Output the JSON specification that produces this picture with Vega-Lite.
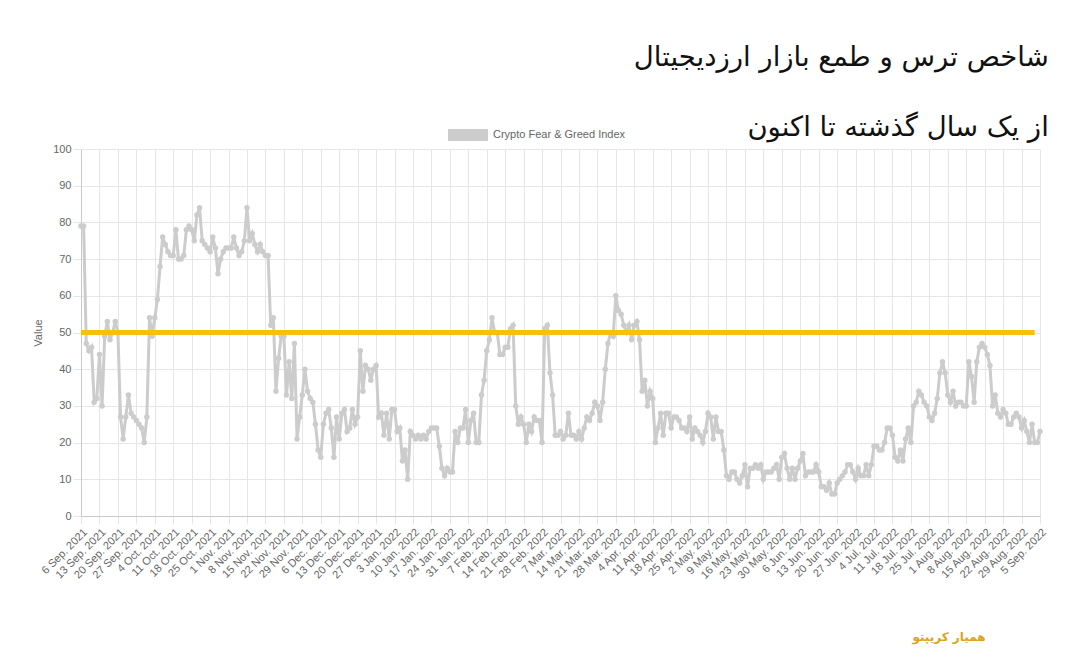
{
  "$schema": "https://vega.github.io/schema/vega-lite/v6.json",
  "width": 959,
  "height": 367,
  "autosize": {"type": "none"},
  "padding": {"left": 81, "top": 149, "right": 38, "bottom": 155},
  "background": "#ffffff",
  "title": {
    "text": ["شاخص ترس و طمع بازار ارزدیجیتال", "از یک سال گذشته تا اکنون"],
    "anchor": "end",
    "font": "DejaVu Sans",
    "fontSize": 27.5,
    "fontWeight": "normal",
    "color": "#111111",
    "lineHeight": 70,
    "offset": -26,
    "dx": 1
  },
  "data": {
    "values": [
      {"date": "2021-09-06", "value": 79}, {"date": "2021-09-07", "value": 79}, {"date": "2021-09-08", "value": 47}, {"date": "2021-09-09", "value": 45}, {"date": "2021-09-10", "value": 46}, {"date": "2021-09-11", "value": 31}, {"date": "2021-09-12", "value": 32}, {"date": "2021-09-13", "value": 44}, {"date": "2021-09-14", "value": 30}, {"date": "2021-09-15", "value": 49}, {"date": "2021-09-16", "value": 53}, {"date": "2021-09-17", "value": 48}, {"date": "2021-09-18", "value": 50}, {"date": "2021-09-19", "value": 53}, {"date": "2021-09-20", "value": 50}, {"date": "2021-09-21", "value": 27}, {"date": "2021-09-22", "value": 21}, {"date": "2021-09-23", "value": 27}, {"date": "2021-09-24", "value": 33}, {"date": "2021-09-25", "value": 28}, {"date": "2021-09-26", "value": 27}, {"date": "2021-09-27", "value": 26}, {"date": "2021-09-28", "value": 25}, {"date": "2021-09-29", "value": 24}, {"date": "2021-09-30", "value": 20},
      {"date": "2021-10-01", "value": 27}, {"date": "2021-10-02", "value": 54}, {"date": "2021-10-03", "value": 49}, {"date": "2021-10-04", "value": 54}, {"date": "2021-10-05", "value": 59}, {"date": "2021-10-06", "value": 68}, {"date": "2021-10-07", "value": 76}, {"date": "2021-10-08", "value": 74}, {"date": "2021-10-09", "value": 72}, {"date": "2021-10-10", "value": 71}, {"date": "2021-10-11", "value": 71}, {"date": "2021-10-12", "value": 78}, {"date": "2021-10-13", "value": 70}, {"date": "2021-10-14", "value": 70}, {"date": "2021-10-15", "value": 71}, {"date": "2021-10-16", "value": 78}, {"date": "2021-10-17", "value": 79}, {"date": "2021-10-18", "value": 78}, {"date": "2021-10-19", "value": 75}, {"date": "2021-10-20", "value": 82}, {"date": "2021-10-21", "value": 84}, {"date": "2021-10-22", "value": 75}, {"date": "2021-10-23", "value": 74}, {"date": "2021-10-24", "value": 73}, {"date": "2021-10-25", "value": 72}, {"date": "2021-10-26", "value": 76}, {"date": "2021-10-27", "value": 73}, {"date": "2021-10-28", "value": 66}, {"date": "2021-10-29", "value": 70}, {"date": "2021-10-30", "value": 72}, {"date": "2021-10-31", "value": 73},
      {"date": "2021-11-01", "value": 73}, {"date": "2021-11-02", "value": 73}, {"date": "2021-11-03", "value": 76}, {"date": "2021-11-04", "value": 73}, {"date": "2021-11-05", "value": 71}, {"date": "2021-11-06", "value": 72}, {"date": "2021-11-07", "value": 75}, {"date": "2021-11-08", "value": 84}, {"date": "2021-11-09", "value": 75}, {"date": "2021-11-10", "value": 77}, {"date": "2021-11-11", "value": 74}, {"date": "2021-11-12", "value": 72}, {"date": "2021-11-13", "value": 74}, {"date": "2021-11-14", "value": 72}, {"date": "2021-11-15", "value": 71}, {"date": "2021-11-16", "value": 71}, {"date": "2021-11-17", "value": 52}, {"date": "2021-11-18", "value": 54}, {"date": "2021-11-19", "value": 34}, {"date": "2021-11-20", "value": 43}, {"date": "2021-11-21", "value": 49}, {"date": "2021-11-22", "value": 49}, {"date": "2021-11-23", "value": 33}, {"date": "2021-11-24", "value": 42}, {"date": "2021-11-25", "value": 32}, {"date": "2021-11-26", "value": 47}, {"date": "2021-11-27", "value": 21}, {"date": "2021-11-28", "value": 27}, {"date": "2021-11-29", "value": 33}, {"date": "2021-11-30", "value": 40},
      {"date": "2021-12-01", "value": 34}, {"date": "2021-12-02", "value": 32}, {"date": "2021-12-03", "value": 31}, {"date": "2021-12-04", "value": 25}, {"date": "2021-12-05", "value": 18}, {"date": "2021-12-06", "value": 16}, {"date": "2021-12-07", "value": 25}, {"date": "2021-12-08", "value": 28}, {"date": "2021-12-09", "value": 29}, {"date": "2021-12-10", "value": 24}, {"date": "2021-12-11", "value": 16}, {"date": "2021-12-12", "value": 27}, {"date": "2021-12-13", "value": 21}, {"date": "2021-12-14", "value": 28}, {"date": "2021-12-15", "value": 29}, {"date": "2021-12-16", "value": 23}, {"date": "2021-12-17", "value": 24}, {"date": "2021-12-18", "value": 29}, {"date": "2021-12-19", "value": 25}, {"date": "2021-12-20", "value": 27}, {"date": "2021-12-21", "value": 45}, {"date": "2021-12-22", "value": 34}, {"date": "2021-12-23", "value": 41}, {"date": "2021-12-24", "value": 40}, {"date": "2021-12-25", "value": 37}, {"date": "2021-12-26", "value": 40}, {"date": "2021-12-27", "value": 41}, {"date": "2021-12-28", "value": 27}, {"date": "2021-12-29", "value": 28}, {"date": "2021-12-30", "value": 22}, {"date": "2021-12-31", "value": 28},
      {"date": "2022-01-01", "value": 21}, {"date": "2022-01-02", "value": 29}, {"date": "2022-01-03", "value": 29}, {"date": "2022-01-04", "value": 23}, {"date": "2022-01-05", "value": 24}, {"date": "2022-01-06", "value": 15}, {"date": "2022-01-07", "value": 18}, {"date": "2022-01-08", "value": 10}, {"date": "2022-01-09", "value": 23}, {"date": "2022-01-10", "value": 22}, {"date": "2022-01-11", "value": 21}, {"date": "2022-01-12", "value": 22}, {"date": "2022-01-13", "value": 21}, {"date": "2022-01-14", "value": 22}, {"date": "2022-01-15", "value": 21}, {"date": "2022-01-16", "value": 23}, {"date": "2022-01-17", "value": 24}, {"date": "2022-01-18", "value": 24}, {"date": "2022-01-19", "value": 24}, {"date": "2022-01-20", "value": 19}, {"date": "2022-01-21", "value": 13}, {"date": "2022-01-22", "value": 11}, {"date": "2022-01-23", "value": 13}, {"date": "2022-01-24", "value": 12}, {"date": "2022-01-25", "value": 12}, {"date": "2022-01-26", "value": 23}, {"date": "2022-01-27", "value": 20}, {"date": "2022-01-28", "value": 24}, {"date": "2022-01-29", "value": 24}, {"date": "2022-01-30", "value": 29}, {"date": "2022-01-31", "value": 20},
      {"date": "2022-02-01", "value": 26}, {"date": "2022-02-02", "value": 28}, {"date": "2022-02-03", "value": 20}, {"date": "2022-02-04", "value": 20}, {"date": "2022-02-05", "value": 33}, {"date": "2022-02-06", "value": 37}, {"date": "2022-02-07", "value": 45}, {"date": "2022-02-08", "value": 48}, {"date": "2022-02-09", "value": 54}, {"date": "2022-02-10", "value": 50}, {"date": "2022-02-11", "value": 50}, {"date": "2022-02-12", "value": 44}, {"date": "2022-02-13", "value": 44}, {"date": "2022-02-14", "value": 46}, {"date": "2022-02-15", "value": 46}, {"date": "2022-02-16", "value": 51}, {"date": "2022-02-17", "value": 52}, {"date": "2022-02-18", "value": 30}, {"date": "2022-02-19", "value": 25}, {"date": "2022-02-20", "value": 27}, {"date": "2022-02-21", "value": 25}, {"date": "2022-02-22", "value": 20}, {"date": "2022-02-23", "value": 25}, {"date": "2022-02-24", "value": 23}, {"date": "2022-02-25", "value": 27}, {"date": "2022-02-26", "value": 26}, {"date": "2022-02-27", "value": 26}, {"date": "2022-02-28", "value": 20},
      {"date": "2022-03-01", "value": 51}, {"date": "2022-03-02", "value": 52}, {"date": "2022-03-03", "value": 39}, {"date": "2022-03-04", "value": 33}, {"date": "2022-03-05", "value": 22}, {"date": "2022-03-06", "value": 22}, {"date": "2022-03-07", "value": 23}, {"date": "2022-03-08", "value": 21}, {"date": "2022-03-09", "value": 22}, {"date": "2022-03-10", "value": 28}, {"date": "2022-03-11", "value": 22}, {"date": "2022-03-12", "value": 22}, {"date": "2022-03-13", "value": 21}, {"date": "2022-03-14", "value": 23}, {"date": "2022-03-15", "value": 21}, {"date": "2022-03-16", "value": 24}, {"date": "2022-03-17", "value": 27}, {"date": "2022-03-18", "value": 26}, {"date": "2022-03-19", "value": 28}, {"date": "2022-03-20", "value": 31}, {"date": "2022-03-21", "value": 30}, {"date": "2022-03-22", "value": 26}, {"date": "2022-03-23", "value": 31}, {"date": "2022-03-24", "value": 40}, {"date": "2022-03-25", "value": 47}, {"date": "2022-03-26", "value": 50}, {"date": "2022-03-27", "value": 49}, {"date": "2022-03-28", "value": 60}, {"date": "2022-03-29", "value": 56}, {"date": "2022-03-30", "value": 55}, {"date": "2022-03-31", "value": 52},
      {"date": "2022-04-01", "value": 50}, {"date": "2022-04-02", "value": 52}, {"date": "2022-04-03", "value": 48}, {"date": "2022-04-04", "value": 52}, {"date": "2022-04-05", "value": 53}, {"date": "2022-04-06", "value": 48}, {"date": "2022-04-07", "value": 34}, {"date": "2022-04-08", "value": 37}, {"date": "2022-04-09", "value": 30}, {"date": "2022-04-10", "value": 34}, {"date": "2022-04-11", "value": 32}, {"date": "2022-04-12", "value": 20}, {"date": "2022-04-13", "value": 24}, {"date": "2022-04-14", "value": 28}, {"date": "2022-04-15", "value": 22}, {"date": "2022-04-16", "value": 28}, {"date": "2022-04-17", "value": 28}, {"date": "2022-04-18", "value": 24}, {"date": "2022-04-19", "value": 27}, {"date": "2022-04-20", "value": 27}, {"date": "2022-04-21", "value": 26}, {"date": "2022-04-22", "value": 24}, {"date": "2022-04-23", "value": 24}, {"date": "2022-04-24", "value": 23}, {"date": "2022-04-25", "value": 27}, {"date": "2022-04-26", "value": 21}, {"date": "2022-04-27", "value": 24}, {"date": "2022-04-28", "value": 23}, {"date": "2022-04-29", "value": 22}, {"date": "2022-04-30", "value": 20},
      {"date": "2022-05-01", "value": 23}, {"date": "2022-05-02", "value": 28}, {"date": "2022-05-03", "value": 27}, {"date": "2022-05-04", "value": 21}, {"date": "2022-05-05", "value": 27}, {"date": "2022-05-06", "value": 23}, {"date": "2022-05-07", "value": 23}, {"date": "2022-05-08", "value": 18}, {"date": "2022-05-09", "value": 11}, {"date": "2022-05-10", "value": 10}, {"date": "2022-05-11", "value": 12}, {"date": "2022-05-12", "value": 12}, {"date": "2022-05-13", "value": 10}, {"date": "2022-05-14", "value": 9}, {"date": "2022-05-15", "value": 11}, {"date": "2022-05-16", "value": 14}, {"date": "2022-05-17", "value": 8}, {"date": "2022-05-18", "value": 13}, {"date": "2022-05-19", "value": 13}, {"date": "2022-05-20", "value": 14}, {"date": "2022-05-21", "value": 13}, {"date": "2022-05-22", "value": 14}, {"date": "2022-05-23", "value": 10}, {"date": "2022-05-24", "value": 12}, {"date": "2022-05-25", "value": 12}, {"date": "2022-05-26", "value": 12}, {"date": "2022-05-27", "value": 13}, {"date": "2022-05-28", "value": 14}, {"date": "2022-05-29", "value": 10}, {"date": "2022-05-30", "value": 16}, {"date": "2022-05-31", "value": 17},
      {"date": "2022-06-01", "value": 13}, {"date": "2022-06-02", "value": 10}, {"date": "2022-06-03", "value": 13}, {"date": "2022-06-04", "value": 10}, {"date": "2022-06-05", "value": 13}, {"date": "2022-06-06", "value": 15}, {"date": "2022-06-07", "value": 17}, {"date": "2022-06-08", "value": 11}, {"date": "2022-06-09", "value": 12}, {"date": "2022-06-10", "value": 12}, {"date": "2022-06-11", "value": 12}, {"date": "2022-06-12", "value": 14}, {"date": "2022-06-13", "value": 12}, {"date": "2022-06-14", "value": 8}, {"date": "2022-06-15", "value": 8}, {"date": "2022-06-16", "value": 7}, {"date": "2022-06-17", "value": 9}, {"date": "2022-06-18", "value": 6}, {"date": "2022-06-19", "value": 6}, {"date": "2022-06-20", "value": 9}, {"date": "2022-06-21", "value": 10}, {"date": "2022-06-22", "value": 11}, {"date": "2022-06-23", "value": 12}, {"date": "2022-06-24", "value": 14}, {"date": "2022-06-25", "value": 14}, {"date": "2022-06-26", "value": 12}, {"date": "2022-06-27", "value": 10}, {"date": "2022-06-28", "value": 13}, {"date": "2022-06-29", "value": 11}, {"date": "2022-06-30", "value": 11},
      {"date": "2022-07-01", "value": 14}, {"date": "2022-07-02", "value": 11}, {"date": "2022-07-03", "value": 14}, {"date": "2022-07-04", "value": 19}, {"date": "2022-07-05", "value": 19}, {"date": "2022-07-06", "value": 18}, {"date": "2022-07-07", "value": 18}, {"date": "2022-07-08", "value": 20}, {"date": "2022-07-09", "value": 24}, {"date": "2022-07-10", "value": 24}, {"date": "2022-07-11", "value": 22}, {"date": "2022-07-12", "value": 16}, {"date": "2022-07-13", "value": 15}, {"date": "2022-07-14", "value": 18}, {"date": "2022-07-15", "value": 15}, {"date": "2022-07-16", "value": 21}, {"date": "2022-07-17", "value": 24}, {"date": "2022-07-18", "value": 20}, {"date": "2022-07-19", "value": 30}, {"date": "2022-07-20", "value": 31}, {"date": "2022-07-21", "value": 34}, {"date": "2022-07-22", "value": 33}, {"date": "2022-07-23", "value": 31}, {"date": "2022-07-24", "value": 30}, {"date": "2022-07-25", "value": 27}, {"date": "2022-07-26", "value": 26}, {"date": "2022-07-27", "value": 28}, {"date": "2022-07-28", "value": 32}, {"date": "2022-07-29", "value": 39}, {"date": "2022-07-30", "value": 42}, {"date": "2022-07-31", "value": 39},
      {"date": "2022-08-01", "value": 33}, {"date": "2022-08-02", "value": 31}, {"date": "2022-08-03", "value": 34}, {"date": "2022-08-04", "value": 30}, {"date": "2022-08-05", "value": 31}, {"date": "2022-08-06", "value": 31}, {"date": "2022-08-07", "value": 30}, {"date": "2022-08-08", "value": 30}, {"date": "2022-08-09", "value": 42}, {"date": "2022-08-10", "value": 38}, {"date": "2022-08-11", "value": 31}, {"date": "2022-08-12", "value": 42}, {"date": "2022-08-13", "value": 46}, {"date": "2022-08-14", "value": 47}, {"date": "2022-08-15", "value": 46}, {"date": "2022-08-16", "value": 44}, {"date": "2022-08-17", "value": 41}, {"date": "2022-08-18", "value": 30}, {"date": "2022-08-19", "value": 33}, {"date": "2022-08-20", "value": 28}, {"date": "2022-08-21", "value": 27}, {"date": "2022-08-22", "value": 29}, {"date": "2022-08-23", "value": 28}, {"date": "2022-08-24", "value": 25}, {"date": "2022-08-25", "value": 25}, {"date": "2022-08-26", "value": 27}, {"date": "2022-08-27", "value": 28}, {"date": "2022-08-28", "value": 27}, {"date": "2022-08-29", "value": 24}, {"date": "2022-08-30", "value": 26}, {"date": "2022-08-31", "value": 23},
      {"date": "2022-09-01", "value": 20}, {"date": "2022-09-02", "value": 25}, {"date": "2022-09-03", "value": 20}, {"date": "2022-09-04", "value": 20}, {"date": "2022-09-05", "value": 23}
    ]
  },
  "layer": [
    {
      "mark": {"type": "line", "color": "#cccccc", "strokeWidth": 3},
      "encoding": {
        "x": {
          "field": "date",
          "type": "temporal",
          "scale": {
            "type": "utc",
            "domain": [{"year": 2021, "month": 9, "date": 6, "utc": true}, {"year": 2022, "month": 9, "date": 5, "utc": true}]
          },
          "axis": {
            "values": [
              {"year": 2021, "month": 9, "date": 6, "utc": true}, {"year": 2021, "month": 9, "date": 13, "utc": true}, {"year": 2021, "month": 9, "date": 20, "utc": true}, {"year": 2021, "month": 9, "date": 27, "utc": true},
              {"year": 2021, "month": 10, "date": 4, "utc": true}, {"year": 2021, "month": 10, "date": 11, "utc": true}, {"year": 2021, "month": 10, "date": 18, "utc": true}, {"year": 2021, "month": 10, "date": 25, "utc": true},
              {"year": 2021, "month": 11, "date": 1, "utc": true}, {"year": 2021, "month": 11, "date": 8, "utc": true}, {"year": 2021, "month": 11, "date": 15, "utc": true}, {"year": 2021, "month": 11, "date": 22, "utc": true}, {"year": 2021, "month": 11, "date": 29, "utc": true},
              {"year": 2021, "month": 12, "date": 6, "utc": true}, {"year": 2021, "month": 12, "date": 13, "utc": true}, {"year": 2021, "month": 12, "date": 20, "utc": true}, {"year": 2021, "month": 12, "date": 27, "utc": true},
              {"year": 2022, "month": 1, "date": 3, "utc": true}, {"year": 2022, "month": 1, "date": 10, "utc": true}, {"year": 2022, "month": 1, "date": 17, "utc": true}, {"year": 2022, "month": 1, "date": 24, "utc": true}, {"year": 2022, "month": 1, "date": 31, "utc": true},
              {"year": 2022, "month": 2, "date": 7, "utc": true}, {"year": 2022, "month": 2, "date": 14, "utc": true}, {"year": 2022, "month": 2, "date": 21, "utc": true}, {"year": 2022, "month": 2, "date": 28, "utc": true},
              {"year": 2022, "month": 3, "date": 7, "utc": true}, {"year": 2022, "month": 3, "date": 14, "utc": true}, {"year": 2022, "month": 3, "date": 21, "utc": true}, {"year": 2022, "month": 3, "date": 28, "utc": true},
              {"year": 2022, "month": 4, "date": 4, "utc": true}, {"year": 2022, "month": 4, "date": 11, "utc": true}, {"year": 2022, "month": 4, "date": 18, "utc": true}, {"year": 2022, "month": 4, "date": 25, "utc": true},
              {"year": 2022, "month": 5, "date": 2, "utc": true}, {"year": 2022, "month": 5, "date": 9, "utc": true}, {"year": 2022, "month": 5, "date": 16, "utc": true}, {"year": 2022, "month": 5, "date": 23, "utc": true}, {"year": 2022, "month": 5, "date": 30, "utc": true},
              {"year": 2022, "month": 6, "date": 6, "utc": true}, {"year": 2022, "month": 6, "date": 13, "utc": true}, {"year": 2022, "month": 6, "date": 20, "utc": true}, {"year": 2022, "month": 6, "date": 27, "utc": true},
              {"year": 2022, "month": 7, "date": 4, "utc": true}, {"year": 2022, "month": 7, "date": 11, "utc": true}, {"year": 2022, "month": 7, "date": 18, "utc": true}, {"year": 2022, "month": 7, "date": 25, "utc": true},
              {"year": 2022, "month": 8, "date": 1, "utc": true}, {"year": 2022, "month": 8, "date": 8, "utc": true}, {"year": 2022, "month": 8, "date": 15, "utc": true}, {"year": 2022, "month": 8, "date": 22, "utc": true}, {"year": 2022, "month": 8, "date": 29, "utc": true},
              {"year": 2022, "month": 9, "date": 5, "utc": true}
            ],
            "tickCount": 200,
            "format": "%-d %b. %Y",
            "labelAngle": -45,
            "labelOverlap": false,
            "labelFlush": false,
            "labelFontSize": 11,
            "labelPadding": 2,
            "tickSize": 8,
            "title": "همیار کریپتو",
            "titleFont": "DejaVu Sans",
            "titleFontSize": 12,
            "titleFontWeight": "bold",
            "titleColor": "#d9a521",
            "titleAnchor": "end",
            "titleAlign": "right",
            "titleBaseline": "middle",
            "titleX": 904,
            "titleY": 120
          }
        },
        "y": {
          "field": "value",
          "type": "quantitative",
          "scale": {"domain": [0, 100]},
          "axis": {
            "values": [0, 10, 20, 30, 40, 50, 60, 70, 80, 90, 100],
            "tickCount": 50,
            "title": "Value",
            "titleFontSize": 11,
            "titleFontWeight": "normal",
            "titlePadding": 9,
            "labelFontSize": 11,
            "labelPadding": 2,
            "tickSize": 8
          }
        }
      }
    },
    {
      "mark": {"type": "point", "filled": true, "size": 30, "opacity": 1},
      "encoding": {
        "x": {"field": "date", "type": "temporal"},
        "y": {"field": "value", "type": "quantitative", "title": "Value"},
        "color": {
          "datum": "Crypto Fear & Greed Index",
          "type": "nominal",
          "scale": {"range": ["#cccccc"]},
          "legend": {
            "title": null,
            "orient": "none",
            "legendX": 367,
            "legendY": -34,
            "symbolType": "M-1,-0.3L1,-0.3L1,0.3L-1,0.3Z",
            "symbolSize": 1600,
            "symbolOpacity": 1,
            "symbolStrokeWidth": 0,
            "labelFontSize": 11,
            "labelColor": "#666666",
            "labelOffset": 5,
            "padding": 0
          }
        }
      }
    },
    {
      "data": {"values": [{"level": 50}]},
      "mark": {"type": "rule", "color": "#f4c20d", "strokeWidth": 5},
      "encoding": {
        "x": {"datum": {"year": 2021, "month": 9, "date": 6, "utc": true}, "type": "temporal"},
        "x2": {"datum": {"year": 2022, "month": 9, "date": 3, "utc": true}},
        "y": {"field": "level", "type": "quantitative", "title": "Value"}
      }
    }
  ],
  "config": {
    "font": "Liberation Sans",
    "view": {"stroke": null},
    "axis": {
      "labelColor": "#666666",
      "titleColor": "#666666",
      "gridColor": "#e6e6e6",
      "tickColor": "#e6e6e6",
      "domainColor": "#c8c8c8"
    }
  }
}
